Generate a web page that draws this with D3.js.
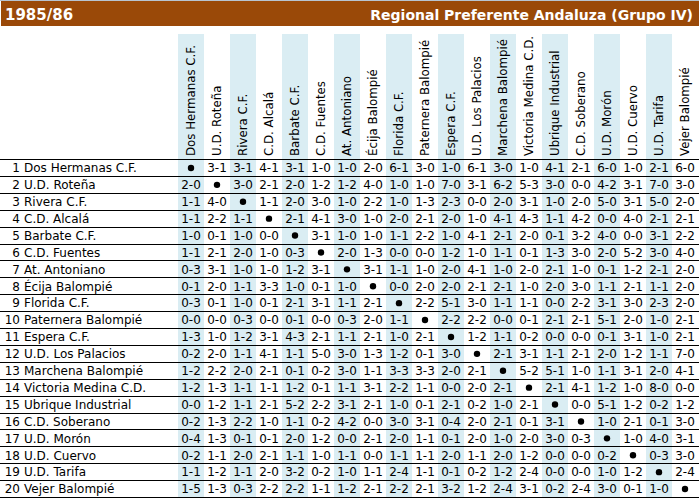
<!DOCTYPE html>
<html>
<head>
<meta charset="utf-8">
<script src="https://cdn.jsdelivr.net/npm/d3@7"></script>
<style>
  html, body { margin: 0; padding: 0; background: #fff; }
  svg { display: block; }
</style>
</head>
<body>
<svg id="chart"></svg>
<script>
// ── Data ──
const season = '1985/86';
const league = 'Regional Preferente Andaluza (Grupo IV)';

const teams = [
  'Dos Hermanas C.F.', 'U.D. Roteña', 'Rivera C.F.', 'C.D. Alcalá', 'Barbate C.F.',
  'C.D. Fuentes', 'At. Antoniano', 'Écija Balompié', 'Florida C.F.', 'Paternera Balompié',
  'Espera C.F.', 'U.D. Los Palacios', 'Marchena Balompié', 'Victoria Medina C.D.', 'Ubrique Industrial',
  'C.D. Soberano', 'U.D. Morón', 'U.D. Cuervo', 'U.D. Tarifa', 'Vejer Balompié'
];

// home team = row, away team = column, "x" = same team
const results = [
  'x 3-1 3-1 4-1 3-1 1-0 1-0 2-0 6-1 3-0 1-0 6-1 3-0 1-0 4-1 2-1 6-0 1-0 2-1 6-0',
  '2-0 x 3-0 2-1 2-0 1-2 1-2 4-0 1-0 1-0 7-0 3-1 6-2 5-3 3-0 0-0 4-2 3-1 7-0 3-0',
  '1-1 4-0 x 1-1 2-0 3-0 1-0 2-2 1-0 1-3 2-3 0-0 2-0 3-1 1-0 2-0 5-0 3-1 5-0 2-0',
  '1-1 2-2 1-1 x 2-1 4-1 3-0 1-0 2-0 2-1 2-0 1-0 4-1 4-3 1-1 4-2 0-0 4-0 2-1 2-1',
  '1-0 0-1 1-0 0-0 x 3-1 1-0 1-0 1-1 2-2 1-0 4-1 2-1 2-0 0-1 3-2 4-0 0-0 3-1 2-2',
  '1-1 2-1 2-0 1-0 0-3 x 2-0 1-3 0-0 0-0 1-2 1-0 1-1 0-1 1-3 3-0 2-0 5-2 3-0 4-0',
  '0-3 3-1 1-0 1-0 1-2 3-1 x 3-1 1-1 1-0 2-0 4-1 1-0 2-0 2-1 1-0 0-1 1-2 2-1 2-0',
  '0-1 2-0 1-1 3-3 1-0 0-1 1-0 x 0-0 2-0 2-0 2-1 2-1 1-0 2-0 3-0 1-1 2-1 1-1 2-0',
  '0-3 0-1 1-0 0-1 2-1 3-1 1-1 2-1 x 2-2 5-1 3-0 1-1 1-1 0-0 2-2 3-1 3-0 2-3 2-0',
  '0-0 0-0 0-3 0-0 0-1 0-0 0-3 2-0 1-1 x 2-2 2-2 0-0 0-1 2-1 2-1 5-1 2-0 1-0 2-1',
  '1-3 1-0 1-2 3-1 4-3 2-1 1-1 2-1 1-0 2-1 x 1-2 1-1 0-2 0-0 0-0 0-1 3-1 1-0 2-1',
  '0-2 2-0 1-1 4-1 1-1 5-0 3-0 1-3 1-2 0-1 3-0 x 2-1 3-1 1-1 2-1 2-0 1-2 1-1 7-0',
  '1-2 2-2 2-0 2-1 0-1 0-2 3-0 1-1 3-3 3-3 2-0 2-1 x 5-2 5-1 1-0 1-1 3-1 2-0 4-1',
  '1-2 1-3 1-1 1-1 1-2 0-1 1-1 3-1 2-2 1-1 0-0 2-0 2-1 x 2-1 4-1 1-2 1-0 8-0 0-0',
  '0-0 1-2 1-1 2-1 5-2 2-2 3-1 2-1 1-0 0-1 2-1 0-2 1-0 2-1 x 0-0 5-1 1-2 0-2 1-2',
  '0-2 1-3 2-2 1-0 1-1 0-2 4-2 0-0 3-0 3-1 0-4 2-0 2-1 0-1 3-1 x 1-0 2-1 0-1 3-0',
  '0-4 1-3 0-1 0-1 2-0 1-2 0-0 2-1 2-0 1-1 0-1 2-0 1-0 2-0 3-0 0-3 x 1-0 4-0 3-1',
  '0-2 1-1 2-0 2-1 1-1 1-0 1-1 0-0 1-1 1-1 2-0 1-1 2-0 1-2 0-0 0-0 0-2 x 0-3 3-0',
  '1-1 1-2 1-1 2-0 3-2 0-2 1-0 1-1 2-4 1-1 0-1 0-2 1-2 2-4 0-0 0-0 1-0 1-2 x 2-4',
  '1-5 1-3 0-3 2-2 2-2 1-1 1-2 2-1 2-2 2-1 3-2 1-2 2-4 3-1 0-2 2-4 3-0 0-1 1-0 x'
].map(r => r.split(' '));

// ── Layout ──
const W = 699, H = 500;
const FONT = '"DejaVu Sans", Verdana, sans-serif';

const svg = d3.select('#chart').attr('width', W).attr('height', H);

const x = d3.scaleBand().domain(d3.range(teams.length)).range([178, 698]);
const y = d3.scaleBand().domain(d3.range(teams.length)).range([159.5, 497.5]);

// outer border top
svg.append('line').attr('x1', 0).attr('x2', W).attr('y1', 0.5).attr('y2', 0.5)
  .attr('stroke', '#b8c4d0');

// ── Title bar ──
svg.append('rect').attr('x', 1).attr('y', 1).attr('width', W - 1).attr('height', 25)
  .attr('fill', '#9a4908');
svg.append('text').text(season)
  .attr('x', 5).attr('y', 19.5)
  .attr('fill', '#fff').attr('font-family', FONT).attr('font-weight', 'bold').attr('font-size', '15px');
svg.append('text').text(league)
  .attr('x', 693).attr('y', 19.5).attr('text-anchor', 'end')
  .attr('fill', '#fff').attr('font-family', FONT).attr('font-weight', 'bold').attr('font-size', '14px');

// ── Column bands ──
svg.append('g').selectAll('rect')
  .data(d3.range(teams.length).filter(i => i % 2 === 0))
  .join('rect')
  .attr('x', i => x(i)).attr('y', 34)
  .attr('width', x.bandwidth()).attr('height', 498 - 34)
  .attr('fill', '#daedf3');

// ── Column headers (rotated) ──
svg.append('g').selectAll('text')
  .data(teams)
  .join('text')
  .text(d => d)
  .attr('transform', (d, i) => `translate(${x(i) + x.bandwidth() / 2 + 4},156) rotate(-90)`)
  .attr('font-family', FONT).attr('font-size', '11.8px').attr('fill', '#000');

// ── Row separators ──
svg.append('g').selectAll('line')
  .data(d3.range(teams.length + 1))
  .join('line')
  .attr('x1', 0).attr('x2', W)
  .attr('y1', i => Math.round(159 + i * y.step()) + 0.5)
  .attr('y2', i => Math.round(159 + i * y.step()) + 0.5)
  .attr('stroke', '#000').attr('stroke-width', 1);

// ── Rows ──
const row = svg.append('g').selectAll('g')
  .data(results)
  .join('g')
  .attr('transform', (d, i) => `translate(0,${y(i) + y.bandwidth() / 2})`);

row.append('text')
  .text((d, i) => i + 1)
  .attr('x', 20).attr('dy', '0.36em').attr('text-anchor', 'end')
  .attr('font-family', FONT).attr('font-size', '12px').attr('fill', '#000');

row.append('text')
  .text((d, i) => teams[i])
  .attr('x', 24).attr('dy', '0.36em')
  .attr('font-family', FONT).attr('font-size', '12px').attr('fill', '#000');

row.each(function (r) {
  const g = d3.select(this);
  r.forEach((s, j) => {
    const cx = x(j) + x.bandwidth() / 2;
    if (s === 'x') {
      g.append('circle').attr('cx', cx).attr('cy', 0).attr('r', 3.2).attr('fill', '#000');
    } else {
      g.append('text').text(s)
        .attr('x', cx).attr('dy', '0.36em').attr('text-anchor', 'middle')
        .attr('font-family', FONT).attr('font-size', '12px').attr('fill', '#000');
    }
  });
});
</script>
</body>
</html>
